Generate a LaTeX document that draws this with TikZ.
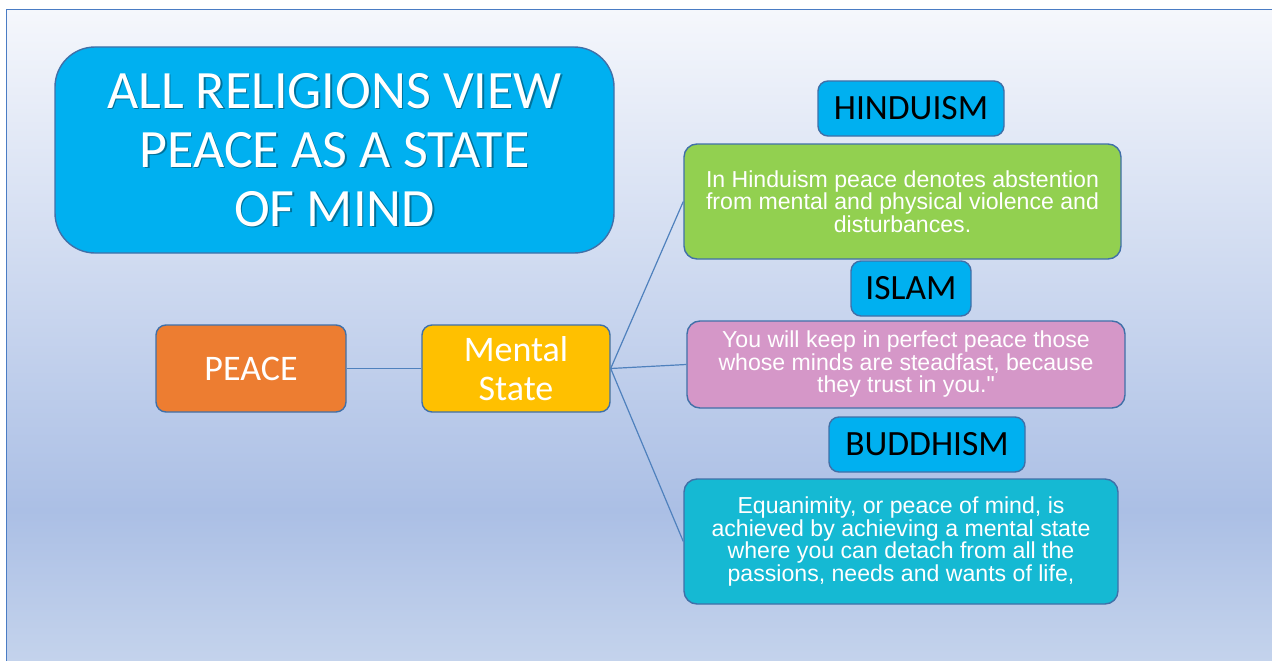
\documentclass[tikz,border=0pt]{standalone}
\usepackage{fontspec}
\setmainfont{Liberation Sans}[Ligatures=TeXOff]
\newfontfamily\labelfont{Carlito}
\definecolor{bgtop}{HTML}{F5F7FC}
\definecolor{bgmid}{HTML}{ABBFE5}
\definecolor{bgbot}{HTML}{C4D3EC}
\definecolor{frameline}{HTML}{4A7CC4}
\definecolor{boxline}{HTML}{4070A8}
\definecolor{linkline}{HTML}{4F81BD}
\definecolor{skyblue}{HTML}{00B0F0}
\definecolor{peaceorange}{HTML}{ED7D31}
\definecolor{mindgold}{HTML}{FFC000}
\definecolor{hindugreen}{HTML}{92D050}
\definecolor{islampink}{HTML}{D597C8}
\definecolor{buddhateal}{HTML}{15B9D3}
\begin{document}
\begin{tikzpicture}[x=1pt,y=-1pt,
  box/.style={draw=boxline, line width=1.4pt, inner sep=0pt, align=center},
  keybox/.style={box, rounded corners=10pt, text=white,
    font=\labelfont\fontsize{36}{39}\selectfont},
  faithbox/.style={box, rounded corners=10pt, fill=skyblue, text=black,
    font=\labelfont\fontsize{35.5}{39}\selectfont},
  notebox/.style={box, rounded corners=13pt, text=white,
    font=\fontsize{23.1}{22.5}\selectfont},
  titlefont/.style={inner sep=0pt, align=center,
    font=\labelfont\fontsize{54}{59}\selectfont},
  link/.style={draw=linkline, line width=1.2pt}
]
\useasboundingbox (0,0) rectangle (1272,661);
% page background with the slide frame
\fill[white] (0,0) rectangle (1272,661);
\shade[top color=bgtop, bottom color=bgmid] (6,10) rectangle (1272,511);
\shade[top color=bgmid, bottom color=bgbot] (6,510) rectangle (1272,661);
\draw[frameline, line width=1pt] (6,661) -- (6,10) -- (1272,10);

% title panel
\node[box, rounded corners=40pt, fill=skyblue, minimum width=559pt, minimum height=206pt] (title) at (334.5,150) {};
\node[titlefont, text=black, opacity=0.35] (titleshadow) at (336,151.5)
  {ALL RELIGIONS VIEW\\PEACE AS A STATE\\OF MIND};
\node[titlefont, text=white] (titletext) at (title.center)
  {ALL RELIGIONS VIEW\\PEACE AS A STATE\\OF MIND};

% main branch
\node[keybox, fill=peaceorange, minimum width=190pt, minimum height=87pt] (peace) at (251,368.5) {PEACE};
\node[keybox, fill=mindgold, minimum width=188pt, minimum height=87pt] (mind) at (516,368.5) {Mental\\State};

% religions
\node[faithbox, minimum width=186pt, minimum height=55pt] (hinduism) at (911,108.5) {HINDUISM};
\node[notebox, fill=hindugreen, minimum width=437pt, minimum height=115pt] (hindunote) at (902.5,201.5)
  {In Hinduism peace denotes abstention\\from mental and physical violence and\\disturbances.};

\node[faithbox, minimum width=120pt, minimum height=55pt] (islam) at (911,288.5) {ISLAM};
\node[notebox, fill=islampink, minimum width=438pt, minimum height=87pt] (islamnote) at (906,364.5)
  {You will keep in perfect peace those\\whose minds are steadfast, because\\they trust in you."};

\node[faithbox, minimum width=196pt, minimum height=55pt] (buddhism) at (927,444.5) {BUDDHISM};
\node[notebox, fill=buddhateal, minimum width=434pt, minimum height=125pt] (buddhanote) at (901,541.5)
  {Equanimity, or peace of mind, is\\achieved by achieving a mental state\\where you can detach from all the\\passions, needs and wants of life,};

% connectors
\draw[link] (peace.east) -- (mind.west);
\draw[link] (mind.east) -- (hindunote.west);
\draw[link] (mind.east) -- (islamnote.west);
\draw[link] (mind.east) -- (buddhanote.west);
\end{tikzpicture}
\end{document}
